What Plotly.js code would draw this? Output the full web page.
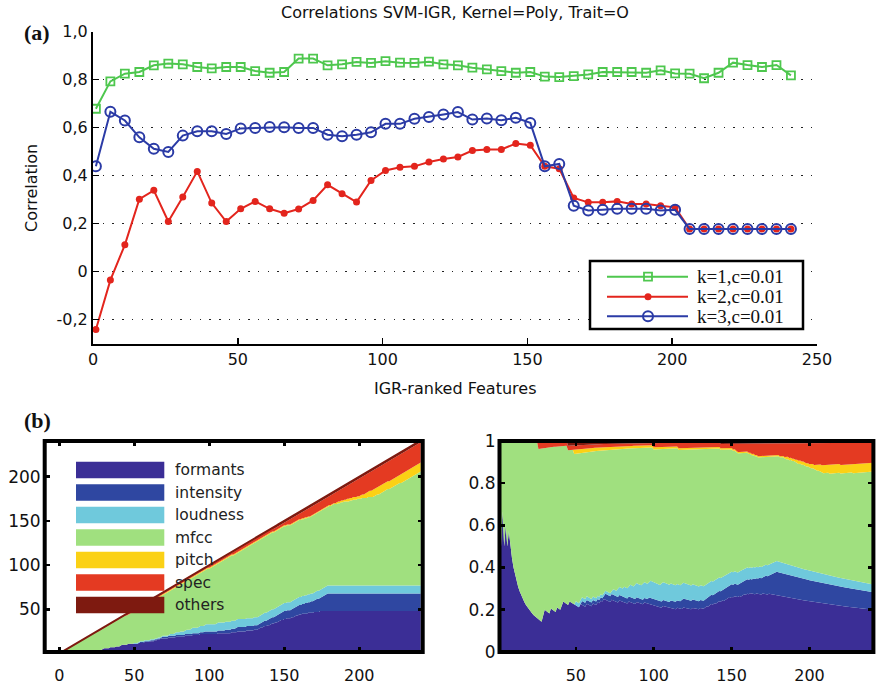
<!DOCTYPE html>
<html>
<head>
<meta charset="utf-8">
<script src="https://cdn.plot.ly/plotly-3.0.1.min.js"></script>
<style>
  html, body { margin: 0; padding: 0; background: #fff; }
  #chart { width: 878px; height: 686px; }
</style>
</head>
<body>
<div id="chart"></div>
<script>
// ---- (a) SVM correlation vs. number of IGR-ranked features ----
const featureCount = [1, 6, 11, 16, 21, 26, 31, 36, 41, 46, 51, 56, 61, 66, 71, 76, 81, 86, 91, 96,
  101, 106, 111, 116, 121, 126, 131, 136, 141, 146, 151, 156, 161, 166, 171, 176, 181, 186, 191, 196,
  201, 206, 211, 216, 221, 226, 231, 236, 241];

const corrK1 = [0.679, 0.793, 0.825, 0.832, 0.860, 0.867, 0.864, 0.853, 0.847, 0.853,
  0.853, 0.836, 0.829, 0.832, 0.888, 0.888, 0.860, 0.864, 0.874, 0.870,
  0.877, 0.871, 0.870, 0.875, 0.864, 0.860, 0.850, 0.843, 0.836, 0.829,
  0.832, 0.813, 0.811, 0.815, 0.822, 0.832, 0.832, 0.832, 0.829, 0.839,
  0.826, 0.825, 0.806, 0.829, 0.871, 0.861, 0.853, 0.861, 0.818];

const corrK2 = [-0.241, -0.035, 0.112, 0.302, 0.339, 0.209, 0.311, 0.418, 0.286, 0.209,
  0.262, 0.293, 0.262, 0.244, 0.261, 0.297, 0.362, 0.325, 0.290, 0.380,
  0.422, 0.435, 0.439, 0.457, 0.470, 0.478, 0.505, 0.509, 0.509, 0.534,
  0.527, 0.439, 0.429, 0.307, 0.289, 0.289, 0.293, 0.282, 0.282, 0.275,
  0.268, 0.178, 0.178, 0.178, 0.178, 0.178, 0.178, 0.178, 0.178];

const corrK3 = [0.439, 0.666, 0.630, 0.560, 0.512, 0.499, 0.567, 0.585, 0.585, 0.574,
  0.597, 0.599, 0.603, 0.602, 0.599, 0.599, 0.571, 0.564, 0.571, 0.581,
  0.616, 0.616, 0.637, 0.645, 0.655, 0.665, 0.634, 0.638, 0.631, 0.641,
  0.620, 0.439, 0.449, 0.275, 0.255, 0.258, 0.262, 0.262, 0.262, 0.255,
  0.258, 0.178, 0.178, 0.178, 0.178, 0.178, 0.178, 0.178, 0.178];

const seriesNames = ['k=1,c=0.01', 'k=2,c=0.01', 'k=3,c=0.01'];
const corrTickValues = [-0.2, 0, 0.2, 0.4, 0.6, 0.8, 1.0];
const corrTickLabels = ['-0,2', '0', '0,2', '0,4', '0,6', '0,8', '1,0'];
const featureTickValues = [0, 50, 100, 150, 200, 250];

// ---- (b) feature groups among the top-n ranked features ----
// one letter per ranked feature (rank 1 .. 241)
const categoryCodes = ['F', 'I', 'L', 'M', 'P', 'S', 'O'];
const categoryNames = ['formants', 'intensity', 'loudness', 'mfcc', 'pitch', 'spec', 'others'];
const rankedCategory =
  'FMFMFMFMMM' + 'MMMMMMMMMM' + 'MMMMMSMMFF' + 'MMMFMMMFMM' + 'FFMMOFMMPL' +
  'MMFIMMFMMM' + 'FMMFMFMFIM' + 'MMFLMMLFMM' + 'LMMFLMMLFM' + 'MMLFMMILMS' +
  'MMMMLFMMMM' + 'IMMMFSMIFM' + 'MMMMFMMMMF' + 'MMFFIFFMFI' + 'FFOFIFFFIF' +
  'SFSSFIFFIF' + 'SFSISFSIMF' + 'IIMFIIIIIM' + 'SMMSPMSMSM' + 'SPSMSMSSMS' +
  'PMSPPMPSPM' + 'MMPMMMMMMS' + 'MMMMMMMPMM' + 'MMMMMMMMMMM';
const absTickValues = [50, 100, 150, 200];
const relTickValues = [0, 0.2, 0.4, 0.6, 0.8, 1];
const relTickLabels = ['0', '0.2', '0.4', '0.6', '0.8', '1'];
const rankTickValuesLeft = [0, 50, 100, 150, 200];
const rankTickValuesRight = [50, 100, 150, 200];

// styling
const lineColors = ['#4ec74e', '#e3251d', '#2b3ba6'];
const categoryColors = ['#3b2e96', '#2f47a1', '#6fc9dc', '#a0e07f', '#fbd115', '#e43a22', '#7e1a10'];

// cumulative count of each group among the first n ranked features
const rankN = [];
const groupCounts = categoryCodes.map(() => []);
const running = categoryCodes.map(() => 0);
for (let i = 0; i < rankedCategory.length; i++) {
  running[categoryCodes.indexOf(rankedCategory[i])] += 1;
  rankN.push(i + 1);
  running.forEach((c, k) => groupCounts[k].push(c));
}

const W = 878, H = 686;
const px = v => v / W;       // page pixel -> paper x
const py = v => 1 - v / H;   // page pixel -> paper y

const SANS = 'DejaVu Sans';
const SERIF = 'Liberation Serif';

const traces = [];

// (a) correlation curves
traces.push({
  x: featureCount, y: corrK1, name: seriesNames[0], xaxis: 'x', yaxis: 'y',
  mode: 'lines+markers', line: { color: lineColors[0], width: 2 },
  marker: { symbol: 'square-open', size: 8, color: lineColors[0], line: { width: 1.8 } }
});
traces.push({
  x: featureCount, y: corrK2, name: seriesNames[1], xaxis: 'x', yaxis: 'y',
  mode: 'lines+markers', line: { color: lineColors[1], width: 2 },
  marker: { symbol: 'circle', size: 7, color: lineColors[1] }
});
traces.push({
  x: featureCount, y: corrK3, name: seriesNames[2], xaxis: 'x', yaxis: 'y',
  mode: 'lines+markers', line: { color: lineColors[2], width: 2 },
  marker: { symbol: 'circle-open', size: 10, color: lineColors[2], line: { width: 2 } }
});

// (b) left: absolute counts, stacked
categoryNames.forEach((name, k) => {
  const top = k === categoryNames.length - 1;
  traces.push({
    x: rankN, y: groupCounts[k], name: name, xaxis: 'x2', yaxis: 'y2',
    stackgroup: 'abs', mode: 'lines',
    line: { width: top ? 2 : 0, color: categoryColors[k] },
    fillcolor: categoryColors[k]
  });
});

// (b) right: the same counts as fractions of n
categoryNames.forEach((name, k) => {
  const tr = {
    x: rankN, y: groupCounts[k], name: name, xaxis: 'x3', yaxis: 'y3',
    stackgroup: 'rel', mode: 'lines',
    line: { width: 0, color: categoryColors[k] },
    fillcolor: categoryColors[k]
  };
  if (k === 0) tr.groupnorm = 'fraction';
  traces.push(tr);
});

const shapes = [];
const annotations = [];

// frames around the two lower panels
[[44.7, 422.7], [499.5, 873.4]].forEach(([l, r]) => {
  shapes.push({
    type: 'rect', xref: 'paper', yref: 'paper', layer: 'above',
    x0: px(l), x1: px(r), y0: py(652), y1: py(441),
    line: { color: '#000', width: 4 }, fillcolor: 'rgba(0,0,0,0)'
  });
});

// legend of panel (a)
shapes.push({
  type: 'rect', xref: 'paper', yref: 'paper', layer: 'above',
  x0: px(590), x1: px(803), y0: py(329), y1: py(261),
  line: { color: '#000', width: 2.5 }, fillcolor: '#fff'
});
const legendRows = [276.7, 296.7, 316.3];
legendRows.forEach((r, i) => {
  shapes.push({
    type: 'line', xref: 'paper', yref: 'paper', layer: 'above',
    x0: px(607), x1: px(688), y0: py(r), y1: py(r),
    line: { color: lineColors[i], width: 2 }
  });
  annotations.push({
    xref: 'paper', yref: 'paper', x: px(695), y: py(r), xanchor: 'left', yanchor: 'middle',
    text: seriesNames[i], showarrow: false, font: { family: SERIF, size: 19, color: '#111' }
  });
});
shapes.push({
  type: 'rect', xref: 'paper', yref: 'paper', layer: 'above',
  x0: px(644), x1: px(652), y0: py(legendRows[0] + 4), y1: py(legendRows[0] - 4),
  line: { color: lineColors[0], width: 1.8 }, fillcolor: 'rgba(0,0,0,0)'
});
shapes.push({
  type: 'circle', xref: 'paper', yref: 'paper', layer: 'above',
  x0: px(644.5), x1: px(651.5), y0: py(legendRows[1] + 3.5), y1: py(legendRows[1] - 3.5),
  line: { width: 0 }, fillcolor: lineColors[1]
});
shapes.push({
  type: 'circle', xref: 'paper', yref: 'paper', layer: 'above',
  x0: px(643), x1: px(653), y0: py(legendRows[2] + 5), y1: py(legendRows[2] - 5),
  line: { color: lineColors[2], width: 2 }, fillcolor: 'rgba(0,0,0,0)'
});

// legend of panel (b)
categoryNames.forEach((name, k) => {
  const cy = 470 + k * 22.5;
  shapes.push({
    type: 'rect', xref: 'paper', yref: 'paper', layer: 'above',
    x0: px(76), x1: px(164.3), y0: py(cy + 8.2), y1: py(cy - 8.2),
    line: { width: 0 }, fillcolor: categoryColors[k]
  });
  annotations.push({
    xref: 'paper', yref: 'paper', x: px(173.3), y: py(cy), xanchor: 'left', yanchor: 'middle',
    text: name, showarrow: false, font: { family: SANS, size: 15.5, color: '#222' }
  });
});

// axis titles and panel letters
annotations.push({
  xref: 'paper', yref: 'paper', x: px(455), y: py(388), xanchor: 'center', yanchor: 'middle',
  text: 'IGR-ranked Features', showarrow: false, font: { family: SANS, size: 16, color: '#111' }
});
annotations.push({
  xref: 'paper', yref: 'paper', x: px(32), y: py(188), xanchor: 'center', yanchor: 'middle',
  text: 'Correlation', textangle: -90, showarrow: false, font: { family: SANS, size: 16, color: '#111' }
});
annotations.push({
  xref: 'paper', yref: 'paper', x: px(37), y: py(32), xanchor: 'center', yanchor: 'middle',
  text: '<b>(a)</b>', showarrow: false, font: { family: SERIF, size: 22, color: '#111' }
});
annotations.push({
  xref: 'paper', yref: 'paper', x: px(37), y: py(421), xanchor: 'center', yanchor: 'middle',
  text: '<b>(b)</b>', showarrow: false, font: { family: SERIF, size: 22, color: '#111' }
});

const lowerAxis = {
  ticks: 'inside', ticklen: 5, tickwidth: 2.5, tickcolor: '#000', mirror: 'ticks',
  showline: false, showgrid: false, zeroline: false,
  tickfont: { family: SANS, size: 17, color: '#111' }
};
const lowerXFont = { family: SANS, size: 16, color: '#111' };

const layout = {
  width: W, height: H,
  margin: { l: 0, r: 0, t: 0, b: 0 },
  paper_bgcolor: '#fff', plot_bgcolor: 'rgba(0,0,0,0)',
  showlegend: false, hovermode: false,
  font: { family: SANS, size: 16, color: '#111' },
  title: {
    text: 'Correlations SVM-IGR, Kernel=Poly, Trait=O',
    x: px(455), xanchor: 'center', y: py(12), yanchor: 'middle',
    font: { family: SANS, size: 16, color: '#111' }
  },
  xaxis: {
    domain: [px(93), px(817)], range: [0, 250], anchor: 'y',
    tickvals: featureTickValues, ticks: 'inside', ticklen: 6, tickwidth: 1.5, tickcolor: '#000',
    showline: true, linewidth: 2, linecolor: '#000', showgrid: false, zeroline: false,
    tickfont: { family: SANS, size: 16, color: '#111' }
  },
  yaxis: {
    domain: [py(343.7), py(31.7)], range: [-0.3, 1.0], anchor: 'x',
    tickvals: corrTickValues, ticktext: corrTickLabels,
    ticks: 'inside', ticklen: 6, tickwidth: 1.5, tickcolor: '#000',
    showline: true, linewidth: 2, linecolor: '#000', zeroline: false,
    showgrid: true, gridcolor: '#222', gridwidth: 1.4, griddash: '1.4px,8.3px',
    tickfont: { family: SANS, size: 16, color: '#111' }
  },
  xaxis2: Object.assign({}, lowerAxis, {
    domain: [px(44.7), px(422.7)], range: [-9.7, 242.3], anchor: 'y2',
    tickvals: rankTickValuesLeft, ticklabelstandoff: 12, tickfont: lowerXFont
  }),
  yaxis2: Object.assign({}, lowerAxis, {
    domain: [py(652), py(441)], range: [1.7, 240.4], anchor: 'x2',
    tickvals: absTickValues, ticklabelstandoff: 3
  }),
  xaxis3: Object.assign({}, lowerAxis, {
    domain: [px(499.5), px(873.4)], range: [1, 241], anchor: 'y3',
    tickvals: rankTickValuesRight, ticklabelstandoff: 12, tickfont: lowerXFont
  }),
  yaxis3: Object.assign({}, lowerAxis, {
    domain: [py(651.8), py(441)], range: [0, 1], anchor: 'x3',
    tickvals: relTickValues, ticktext: relTickLabels, ticklabelstandoff: 3
  }),
  shapes: shapes,
  annotations: annotations
};

Plotly.newPlot('chart', traces, layout, { staticPlot: true, displayModeBar: false });
</script>
</body>
</html>
